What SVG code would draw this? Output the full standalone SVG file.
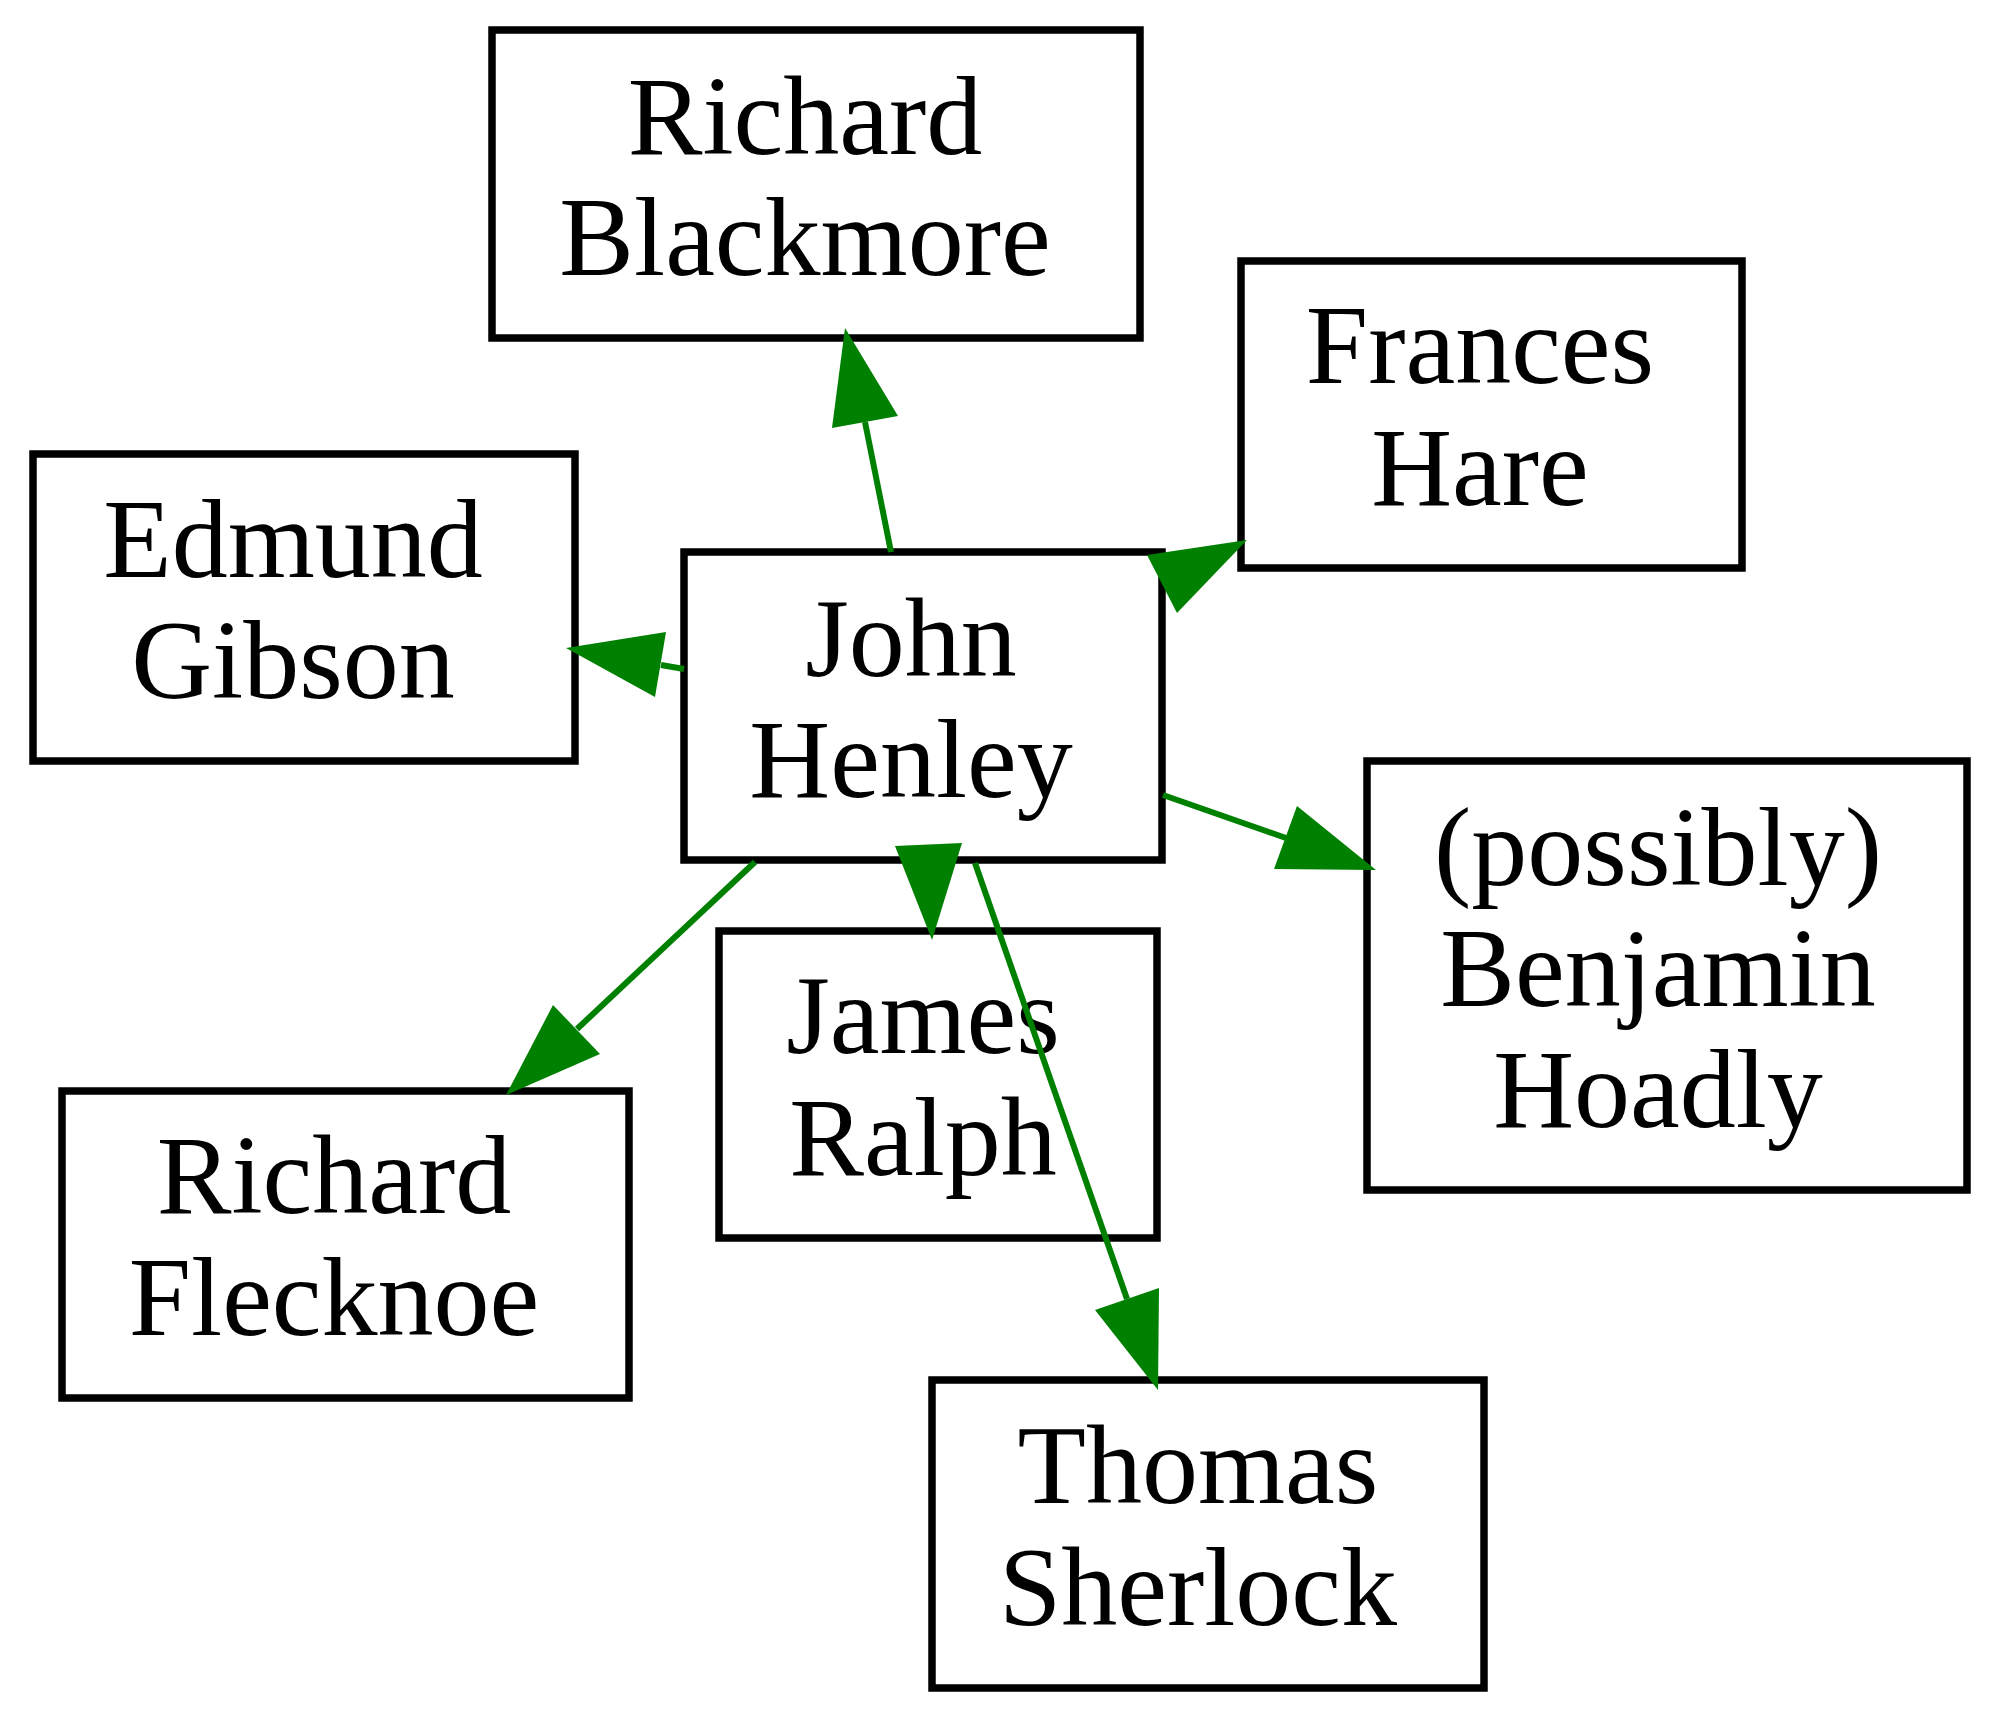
<svg xmlns="http://www.w3.org/2000/svg" width="2000" height="1717" viewBox="0 0 2000 1717">
<style>
.box{fill:#ffffff;stroke:#000000;stroke-width:7.5}
.lbl{font-family:"Liberation Serif","Times New Roman",serif;font-size:112px;fill:#000000;text-anchor:middle}
.edge{stroke:#008000;stroke-width:6;fill:none}
.head{fill:#008000;stroke:none}
</style>
<rect x="0" y="0" width="2000" height="1717" fill="#ffffff"/>
<g id="nodes">
<g id="node-blackmore">
<rect class="box" x="492" y="30" width="648" height="308"/>
<text class="lbl" x="805" y="154">Richard</text>
<text class="lbl" x="805" y="275">Blackmore</text>
</g>
<g id="node-hare">
<rect class="box" x="1241" y="261" width="501" height="307"/>
<text class="lbl" x="1480" y="383">Frances</text>
<text class="lbl" x="1480" y="505">Hare</text>
</g>
<g id="node-gibson">
<rect class="box" x="33" y="454" width="542" height="307"/>
<text class="lbl" x="293" y="577">Edmund</text>
<text class="lbl" x="293" y="698">Gibson</text>
</g>
<g id="node-henley">
<rect class="box" x="684" y="552" width="478" height="308"/>
<text class="lbl" x="911" y="676">John</text>
<text class="lbl" x="911" y="797">Henley</text>
</g>
<g id="node-hoadly">
<rect class="box" x="1367" y="761" width="600" height="429"/>
<text class="lbl" x="1658" y="885">(possibly)</text>
<text class="lbl" x="1658" y="1006">Benjamin</text>
<text class="lbl" x="1658" y="1127">Hoadly</text>
</g>
<g id="node-ralph">
<rect class="box" x="719" y="931" width="438" height="307"/>
<text class="lbl" x="923" y="1053">James</text>
<text class="lbl" x="923" y="1175">Ralph</text>
</g>
<g id="node-flecknoe">
<rect class="box" x="62" y="1091" width="567" height="307"/>
<text class="lbl" x="334" y="1213">Richard</text>
<text class="lbl" x="334" y="1335">Flecknoe</text>
</g>
<g id="node-sherlock">
<rect class="box" x="932" y="1380" width="552" height="308"/>
<text class="lbl" x="1198" y="1503">Thomas</text>
<text class="lbl" x="1198" y="1625">Sherlock</text>
</g>
</g>
<g id="connectors">
<g id="e-blackmore">
<line class="edge" x1="891" y1="552" x2="865" y2="422"/>
<polygon class="head" points="832,428 898,416 845,328"/>
</g>
<g id="e-hare">
<polygon class="head" points="1147,555 1177,613 1247,540"/>
</g>
<g id="e-gibson">
<line class="edge" x1="684" y1="669" x2="661" y2="665"/>
<polygon class="head" points="666,632 655,697 566,648"/>
</g>
<g id="e-hoadly">
<line class="edge" x1="1163" y1="795" x2="1286" y2="838"/>
<polygon class="head" points="1297,806 1274,869 1376,870"/>
</g>
<g id="e-ralph">
<polygon class="head" points="895,846 962,843 932,940"/>
</g>
<g id="e-flecknoe">
<line class="edge" x1="755" y1="862" x2="577" y2="1029"/>
<polygon class="head" points="553,1005 600,1054 506,1095"/>
</g>
<g id="e-sherlock">
<line class="edge" x1="975" y1="863" x2="1127" y2="1299"/>
<polygon class="head" points="1095,1310 1159,1288 1158,1390"/>
</g>
</g>
</svg>
